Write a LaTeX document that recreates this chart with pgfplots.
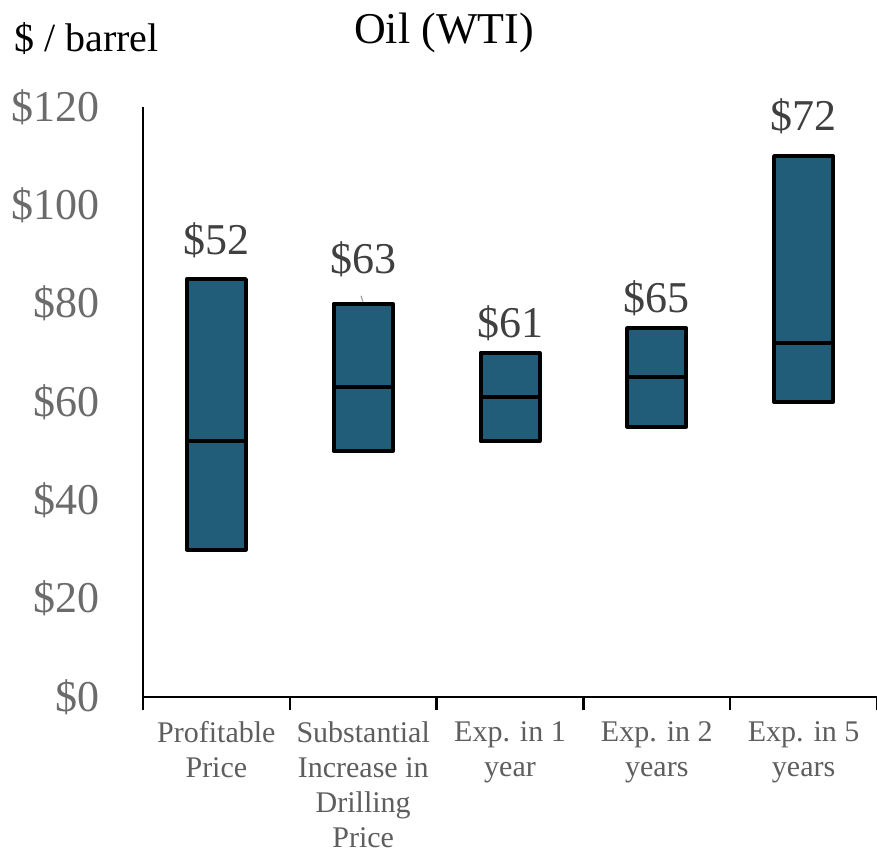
\documentclass[border=0pt]{standalone}
\usepackage{pgfplots}
\pgfplotsset{compat=1.18}
\usepackage{fontspec}
\setmainfont{Liberation Serif}
\definecolor{barblue}{HTML}{215D78}
\definecolor{ticklab}{HTML}{6B6B6B}
\definecolor{catlab}{HTML}{5E5E5E}
\definecolor{datalab}{HTML}{404040}

\begin{document}
\begin{tikzpicture}[font=\rmfamily]
\begin{axis}[
    name=ax,
    scale only axis,
    width=367pt, height=295pt,
    xmin=-0.5, xmax=4.5,
    ymin=0, ymax=120,
    clip=false,
    axis lines=left,
    x axis line style={-, line width=1.2pt},
    y axis line style={-, line width=0.9pt},
    tick align=outside,
    major tick length=6.5pt,
    xtick={-0.5,0.5,...,4.5},
    xticklabels={},
    xtick style={black, line width=1.2pt},
    extra x ticks={0,1,2,3,4},
    extra x tick labels={{Profitable\\Price},{Substantial\\Increase in\\Drilling\\Price},{Exp. in 1\\year},{Exp. in 2\\years},{Exp. in 5\\years}},
    extra x tick style={major tick length=0pt},
    xticklabel style={font=\rmfamily\fontsize{15}{17.5}\selectfont, text=catlab, align=center, anchor=north, inner sep=0pt, yshift=-12pt},
    ytick={0,20,...,120},
    ytick style={draw=none},
    yticklabel={\$\pgfmathprintnumber{\tick}},
    /pgf/number format/assume math mode=true,
    yticklabel style={font=\rmfamily\fontsize{22}{26}\selectfont, text=ticklab, anchor=east, inner sep=0pt, xshift=-15pt},
]
% lows (invisible base), then low->median and median->high
\addplot[ybar stacked, bar width=29.5pt, bar shift=0pt, draw=none, fill=none]
    coordinates {(0,30) (1,50) (2,52) (3,55) (4,60)};
\addplot[ybar stacked, bar width=29.5pt, bar shift=0pt, fill=barblue, draw=black, line width=2pt, line join=round]
    coordinates {(0,22) (1,13) (2,9) (3,10) (4,12)};
\addplot[ybar stacked, bar width=29.5pt, bar shift=0pt, fill=barblue, draw=black, line width=2pt, line join=round]
    coordinates {(0,33) (1,17) (2,9) (3,10) (4,38)};
% median labels
\addplot[draw=none, mark=none,
    nodes near coords, point meta=explicit symbolic,
    nodes near coords style={anchor=base, inner sep=0pt, font=\rmfamily\fontsize{22}{26}\selectfont, text=datalab}]
    coordinates {(0,89.9)[\$52] (1,86.2)[\$63] (2,73.2)[\$61] (3,78.3)[\$65] (4,115.3)[\$72]};
% leader line for $63
\addplot[gray!70, line width=0.6pt, mark=none] coordinates {(0.985,81.6) (0.998,80.4)};
\end{axis}
\node[anchor=base, font=\rmfamily\fontsize{22}{26}\selectfont] at ([shift={(150.5pt,326.5pt)}]ax.south west) {Oil (WTI)};
\node[anchor=base west, inner sep=0pt, font=\rmfamily\fontsize{20}{24}\selectfont] at ([shift={(-64.5pt,322.5pt)}]ax.south west) {\$ / barrel};
\pgfresetboundingbox
\path ([shift={(-71.5pt,-78pt)}]ax.south west) rectangle ([shift={(367pt,348.5pt)}]ax.south west);
\end{tikzpicture}
\end{document}
